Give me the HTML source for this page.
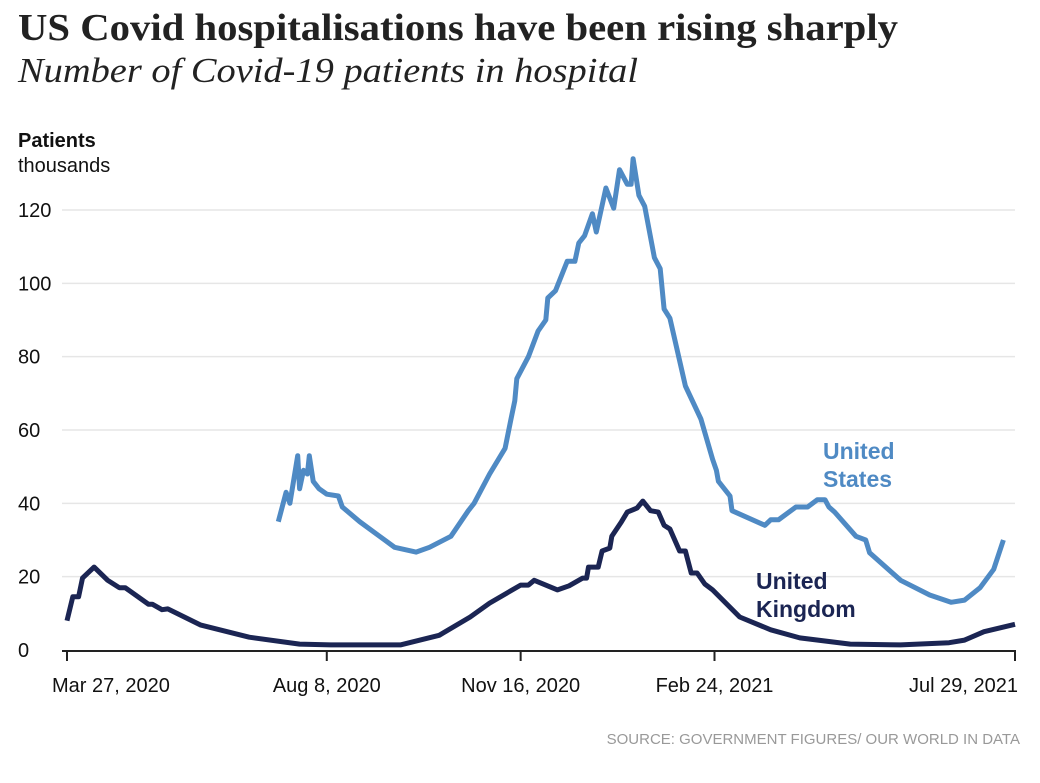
<!DOCTYPE html>
<html><head><meta charset="utf-8">
<style>
body{margin:0;background:#fff;width:1040px;height:778px;overflow:hidden;font-family:"Liberation Sans",sans-serif}
</style></head>
<body>
<svg width="1040" height="778">
<text x="18" y="40" font-family="Liberation Serif" font-weight="bold" font-size="38" fill="#222" textLength="880" lengthAdjust="spacingAndGlyphs">US Covid hospitalisations have been rising sharply</text>
<text x="18" y="82" font-family="Liberation Serif" font-style="italic" font-size="35" fill="#222" textLength="620" lengthAdjust="spacingAndGlyphs">Number of Covid-19 patients in hospital</text>
<text x="18" y="147" font-weight="bold" font-size="20" fill="#111">Patients</text>
<text x="18" y="172" font-size="20" fill="#111">thousands</text>
<g id="grid"></g><g id="xaxis"></g>
<path id="us" fill="none" stroke="#4f8ac4" stroke-width="5" stroke-linejoin="round"/>
<path id="uk" fill="none" stroke="#1b2553" stroke-width="5" stroke-linejoin="round"/>
<text x="823" y="459" font-weight="bold" font-size="23" fill="#4f8ac4">United</text>
<text x="823" y="487" font-weight="bold" font-size="23" fill="#4f8ac4">States</text>
<text x="756" y="589" font-weight="bold" font-size="23" fill="#1b2553">United</text>
<text x="756" y="617" font-weight="bold" font-size="23" fill="#1b2553">Kingdom</text>
<text x="1020" y="744" text-anchor="end" font-size="15" fill="#999">SOURCE: GOVERNMENT FIGURES/ OUR WORLD IN DATA</text>
</svg>
<script>
const yTicks=[0,20,40,60,80,100,120];
const xTickDays=[0,134,234,334,489];
const xTickLabels=["Mar 27, 2020","Aug 8, 2020","Nov 16, 2020","Feb 24, 2021","Jul 29, 2021"];
const usDays=[109,113,115,119,120,122,124,125,127,130,134,140,142,151,169,180,187,198,207,210,218,226,229,231,232,238,243,247,248,252,258,262,264,267,271,273,278,282,285,289,291,292,295,298,303,306,308,311,319,327,333,335,336,342,343,360,363,367,376,382,387,391,393,396,407,412,414,430,445,456,463,471,478,483];
const usVals=[35,43,40,53,44,49,48,53,46,44,42.5,42,39,35,28,26.7,28,31,38,40,48,55,63,68,74,80,87,90,96,98,106,106,111,113,119,114,126,120.5,131,127,127,134,124,121,107,104,93,90.5,72,63,52,49,46,42,38,34,35.5,35.5,39,39,41,41,39,37.6,31,30,26.5,19,15,13,13.6,17,22,30];
const ukDays=[0,3,6,8,14,21,27,30,42,44,49,52,69,94,120,136,172,192,208,218,234,238,241,253,259,266,268,269,274,276,280,281,286,289,294,297,301,305,308,311,316,319,322,325,329,333,347,363,378,404,430,455,463,473,489];
const ukVals=[8,14.5,14.5,19.6,22.6,19,17,17,12.5,12.5,11,11.2,6.8,3.5,1.6,1.4,1.4,4,9,12.8,17.7,17.7,19,16.4,17.5,19.6,19.6,22.6,22.6,27,27.8,31,35,37.6,38.7,40.6,38,37.6,34,33,27,27,21,21,18,16.4,9,5.5,3.3,1.6,1.4,2,2.7,5,7];
const X=d=>67+d*(948/489), Y=v=>650-v*(440/120);
const ns="http://www.w3.org/2000/svg";
const grid=document.getElementById('grid');
yTicks.forEach(t=>{
 if(t>0){const l=document.createElementNS(ns,'line');
 l.setAttribute('x1',62);l.setAttribute('x2',1015);l.setAttribute('y1',Y(t));l.setAttribute('y2',Y(t));
 l.setAttribute('stroke','#e6e6e6');l.setAttribute('stroke-width',1.5);
 
 
 grid.appendChild(l);}
 const tx=document.createElementNS(ns,'text');
 tx.setAttribute('x',18);tx.setAttribute('y',Y(t)+7);tx.setAttribute('font-size',20);tx.setAttribute('fill','#111');
 tx.textContent=t;
 
 
 grid.appendChild(tx);
});
const xa=document.getElementById('xaxis');
const base=document.createElementNS(ns,'line');
base.setAttribute('x1',62);base.setAttribute('x2',1016);base.setAttribute('y1',651);base.setAttribute('y2',651);base.setAttribute('stroke','#222');base.setAttribute('stroke-width',2);


xa.appendChild(base);
xTickDays.forEach((d,i)=>{
 const l=document.createElementNS(ns,'line');
 l.setAttribute('x1',X(d));l.setAttribute('x2',X(d));l.setAttribute('y1',651);l.setAttribute('y2',661);l.setAttribute('stroke','#222');l.setAttribute('stroke-width',2);
 
 
 xa.appendChild(l);
 const tx=document.createElementNS(ns,'text');
 let a='middle',x=X(d);
 if(i===0){a='start';x=52;} if(i===xTickDays.length-1){a='end';x=1018;}
 tx.setAttribute('x',x);tx.setAttribute('y',692);tx.setAttribute('text-anchor',a);tx.setAttribute('font-size',20);tx.setAttribute('fill','#111');
 tx.textContent=xTickLabels[i];
 
 
 xa.appendChild(tx);
});
const path=(ds,vs)=>ds.map((d,i)=>(i?'L':'M')+X(d).toFixed(1)+','+Y(vs[i]).toFixed(1)).join('');
document.getElementById('us').setAttribute('d',path(usDays,usVals));
document.getElementById('uk').setAttribute('d',path(ukDays,ukVals));
</script>
</body></html>
